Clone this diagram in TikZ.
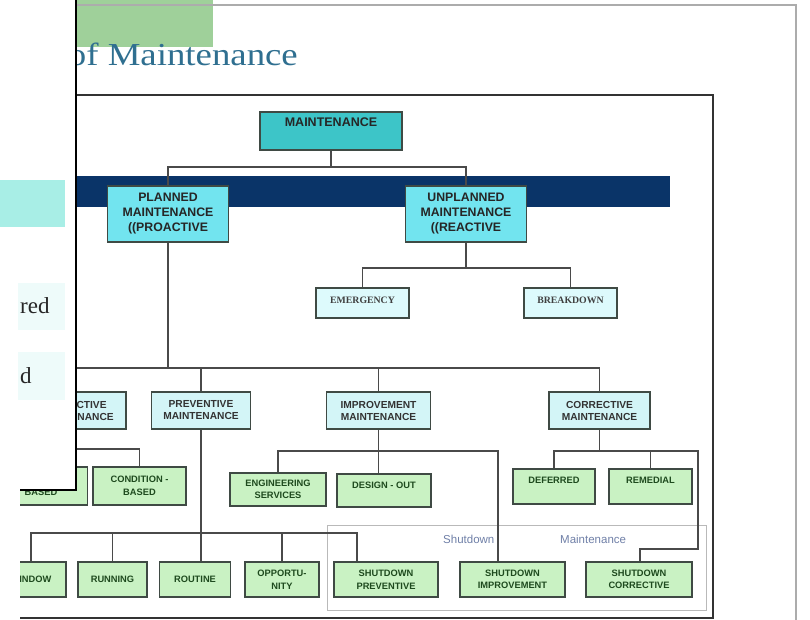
\documentclass[tikz,border=0pt]{standalone}
\usepackage{fontspec}
\setmainfont{Liberation Serif}
\setsansfont{Liberation Sans}
\usetikzlibrary{calc}
\definecolor{tealc}{HTML}{3DC5C8}
\definecolor{cyanB}{HTML}{72E4EF}
\definecolor{cyanL}{HTML}{D3F5F7}
\definecolor{cyanE}{HTML}{DDFAFC}
\definecolor{greenF}{HTML}{C9F2C3}
\definecolor{greenT}{HTML}{1E4A1E}
\definecolor{boxline}{HTML}{3F4A44}
\definecolor{linec}{HTML}{4A4A4A}
\definecolor{navy}{HTML}{0A3468}
\definecolor{titlec}{HTML}{2F6F90}
\definecolor{topgreen}{HTML}{9FD09A}
\definecolor{panelcyan}{HTML}{A8EEE6}
\definecolor{palec}{HTML}{EEFBFA}
\definecolor{shutc}{HTML}{7080A8}
\begin{document}
\begin{tikzpicture}[x=1pt,y=-1pt,
  conn/.style={draw=linec,line width=1.3pt},
  boxbase/.style={draw=boxline,line width=1.5pt,inner sep=0pt,align=center,font=\sffamily\bfseries},
  tealbox/.style={boxbase,fill=tealc,text=black!85,font=\sffamily\bfseries\fontsize{12.5}{14}\selectfont},
  bigbox/.style={boxbase,fill=cyanB,text=black!85,font=\sffamily\bfseries\fontsize{12.3}{15}\selectfont,minimum width=121pt,minimum height=56pt},
  serbox/.style={boxbase,fill=cyanE,text=black!75,font=\rmfamily\bfseries\fontsize{9.8}{11}\selectfont,minimum width=93pt,minimum height=30pt,text height=7pt,text depth=7pt},
  midbox/.style={boxbase,fill=cyanL,text=black!80,font=\sffamily\bfseries\fontsize{10.2}{12}\selectfont,minimum height=37pt},
  grbox/.style={boxbase,fill=greenF,text=greenT,font=\sffamily\bfseries\fontsize{9.3}{12.5}\selectfont},
  lowbox/.style={grbox,minimum height=35pt}]
\useasboundingbox (0,0) rectangle (810,620);
\fill[white] (0,0) rectangle (810,620);
% slide decorations
\fill[topgreen] (76,0) rectangle (213,47);
\draw[gray!65,line width=1.6pt] (76,5) -- (796,5) -- (796,620);
\node[anchor=base east,text=titlec,inner sep=0pt,font=\rmfamily\fontsize{32}{32}\selectfont] (title) at (298,66) {\scalebox{1.15}[1]{of Maintenance}};
% chart frame
\draw[black!80,line width=1.8pt] (10,95) rectangle (713,618);
\fill[navy] (40,176) rectangle (670,207);
% shutdown region
\draw[gray!55,line width=0.8pt] (327,525) rectangle (706,610);
\node[anchor=base west,inner sep=0pt,text=shutc,font=\sffamily\fontsize{11.5}{12}\selectfont] (shutA) at (443,543) {Shutdown};
\node[anchor=base west,inner sep=0pt,text=shutc,font=\sffamily\fontsize{11.5}{12}\selectfont] (shutB) at (560,543) {Maintenance};
% boxes
\node[tealbox,minimum width=142pt,minimum height=38pt,text height=9pt,text depth=17pt] (maint) at (331,131) {MAINTENANCE};
\node[bigbox] (planned) at (168,214) {PLANNED\\MAINTENANCE\\((PROACTIVE};
\node[bigbox] (unplanned) at (466,214) {UNPLANNED\\MAINTENANCE\\((REACTIVE};
\node[serbox] (emerg) at (362.5,303) {EMERGENCY};
\node[serbox] (brk) at (570.5,303) {BREAKDOWN};
\node[midbox,minimum width=100pt] (pred) at (76,410.5) {PREDICTIVE\\MAINTENANCE};
\node[midbox,minimum width=99pt] (prev) at (201,410.5) {PREVENTIVE\\MAINTENANCE};
\node[midbox,minimum width=104pt] (impr) at (378.5,410.5) {IMPROVEMENT\\MAINTENANCE};
\node[midbox,minimum width=101pt] (corr) at (599.5,410.5) {CORRECTIVE\\MAINTENANCE};
\node[grbox,minimum width=93pt,minimum height=38pt] (timeb) at (41,486) {TIME -\\BASED};
\node[grbox,minimum width=93pt,minimum height=38pt] (cond) at (139.5,486) {CONDITION -\\BASED};
\node[grbox,minimum width=96pt,minimum height=33pt] (eng) at (278,489.5) {ENGINEERING\\SERVICES};
\node[grbox,minimum width=94pt,minimum height=33pt,text height=7pt,text depth=12pt] (design) at (384,490.5) {DESIGN - OUT};
\node[grbox,minimum width=82pt,minimum height=35pt,text height=7pt,text depth=13pt] (def) at (554,486.5) {DEFERRED};
\node[grbox,minimum width=83pt,minimum height=35pt,text height=7pt,text depth=13pt] (rem) at (650.5,486.5) {REMEDIAL};
\node[lowbox,minimum width=70pt] (window) at (31,579.5) {WINDOW};
\node[lowbox,minimum width=69pt] (running) at (112.5,579.5) {RUNNING};
\node[lowbox,minimum width=71pt] (routine) at (195,579.5) {ROUTINE};
\node[lowbox,minimum width=74pt] (oppo) at (282,579.5) {OPPORTU-\\NITY};
\node[lowbox,minimum width=104pt] (sprev) at (386,579.5) {SHUTDOWN\\PREVENTIVE};
\node[lowbox,minimum width=105pt] (simp) at (512.5,579.5) {SHUTDOWN\\IMPROVEMENT};
\node[lowbox,minimum width=106pt] (scorr) at (639,579.5) {SHUTDOWN\\CORRECTIVE};
% connectors
\coordinate (j0) at (331,167);
\draw[conn] (maint.south) -- (j0);
\draw[conn] (planned.north) |- (j0) -| (unplanned.north);
\coordinate (j1) at (466,268);
\draw[conn] (unplanned.south) -- (j1);
\draw[conn] (emerg.north) |- (j1) -| (brk.north);
\coordinate (j2) at (168,368);
\draw[conn] (planned.south) -- (j2);
\draw[conn] (pred.north) |- (j2) -| (corr.north);
\draw[conn] (prev.north) -- (prev.north |- j2);
\draw[conn] (impr.north) -- (impr.north |- j2);
\coordinate (j3) at (76,449);
\draw[conn] (pred.south) -- (j3);
\draw[conn] (timeb.north) |- (j3) -| (cond.north);
\coordinate (j4) at (201,533);
\coordinate (k1) at (357,533);
\draw[conn] (prev.south) -- (prev.south |- routine.north);
\draw[conn] (window.north) |- (j4) -- (k1) -- (k1 |- sprev.north);
\draw[conn] (running.north) -- (running.north |- j4);
\draw[conn] (oppo.north) -- (oppo.north |- j4);
\coordinate (j5) at (378.5,451);
\coordinate (k2) at (498,451);
\draw[conn] (impr.south) -- (impr.south |- design.north);
\draw[conn] (eng.north) |- (j5) -- (k2) -- (k2 |- simp.north);
\coordinate (j6) at (599.5,451);
\coordinate (k3) at (698,451);
\coordinate (k4) at (640,549);
\draw[conn] (corr.south) -- (j6);
\draw[conn] (def.north) |- (j6) -- (k3) |- (k4) -- (k4 |- scorr.north);
\draw[conn] (rem.north) -- (rem.north |- j6);
% overlapping panel
\fill[white] (0,0) rectangle (76,490);
\fill[white] (0,490) rectangle (20,620);
\draw[black,line width=2pt] (76,0) -- (76,490) -- (20,490);
\fill[panelcyan] (0,180) rectangle (65,227);
\fill[palec] (18,283) rectangle (65,330);
\fill[palec] (18,352) rectangle (65,400);
\node[anchor=base west,inner sep=0pt,text=black!85,font=\rmfamily\fontsize{23}{23}\selectfont] (pa) at (20,313) {red};
\node[anchor=base west,inner sep=0pt,text=black!85,font=\rmfamily\fontsize{23}{23}\selectfont] (pb) at (20,383) {d};
\end{tikzpicture}
\end{document}
